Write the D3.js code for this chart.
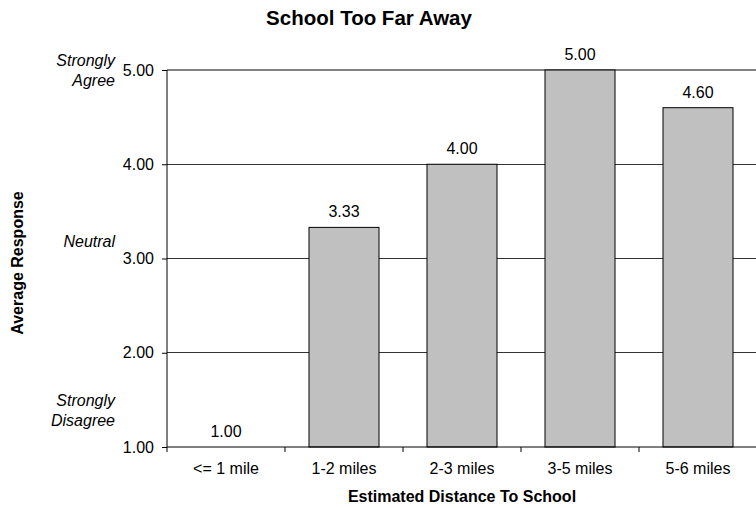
<!DOCTYPE html>
<html>
<head>
<meta charset="utf-8">
<script src="https://cdn.jsdelivr.net/npm/d3@7"></script>
<style>
  html, body { margin: 0; padding: 0; background: #fff; }
  svg { display: block; font-family: "Liberation Sans", Arial, sans-serif; }
</style>
</head>
<body>
<svg id="chart" width="756" height="508"></svg>
<script>
const categories = ["<= 1 mile", "1-2 miles", "2-3 miles", "3-5 miles", "5-6 miles"];
const values = [1.00, 3.33, 4.00, 5.00, 4.60];
const yTicks = [1, 2, 3, 4, 5];
const scaleLabels = [
  { value: 5, lines: ["Strongly", "Agree"] },
  { value: 3, lines: ["Neutral"] },
  { value: 1, lines: ["Strongly", "Disagree"] }
];
const chartTitle = "School Too Far Away";
const xTitle = "Estimated Distance To School";
const yTitle = "Average Response";

(function () {
const svg = d3.select("#chart");
const pLeft = 167, pRight = 757, pTop = 70, pBottom = 447;

const x = d3.scaleBand().domain(categories).range([pLeft, pRight])
  .paddingInner(0.4068).paddingOuter(0.2034);
const y = d3.scaleLinear().domain([1, 5]).range([pBottom, pTop]);

// gridlines
svg.append("g").selectAll("line").data(yTicks.filter(d => d > 1 && d < 5)).join("line")
  .attr("x1", pLeft).attr("x2", pRight)
  .attr("y1", d => y(d)).attr("y2", d => y(d))
  .attr("stroke", "#333").attr("stroke-width", 1).attr("shape-rendering", "crispEdges");
// top line
svg.append("line").attr("x1", pLeft).attr("x2", pRight).attr("y1", y(5)).attr("y2", y(5))
  .attr("stroke", "#808080").attr("stroke-width", 2);

// bars
svg.append("g").selectAll("rect").data(values).join("rect")
  .attr("x", (d, i) => x(categories[i]))
  .attr("width", x.bandwidth())
  .attr("y", d => y(d))
  .attr("height", d => y(1) - y(d))
  .attr("fill", "#c0c0c0")
  .attr("stroke", "#000").attr("stroke-width", 1);

// value labels
svg.append("g").selectAll("text").data(values).join("text")
  .attr("x", (d, i) => x(categories[i]) + x.bandwidth() / 2)
  .attr("y", d => y(d) - 10)
  .attr("text-anchor", "middle")
  .attr("font-size", 16).attr("fill", "#000")
  .text(d => d3.format(".2f")(d));

// y axis
const yAxis = d3.axisLeft(y).tickValues(yTicks).tickFormat(d3.format(".2f")).tickSize(5).tickPadding(8);
const gy = svg.append("g").attr("transform", `translate(${pLeft},0)`).call(yAxis);
gy.select(".domain").attr("stroke", "#000").attr("d", `M0,${pTop}V${pBottom}`);
gy.selectAll(".tick line").attr("stroke", "#000");
gy.selectAll(".tick text").attr("font-size", 16).attr("font-family", "Liberation Sans, Arial, sans-serif").attr("fill", "#000");

// x axis
const xBoundaries = d3.range(categories.length + 1).map(i => pLeft + i * x.step());
svg.append("line").attr("x1", pLeft).attr("x2", pRight).attr("y1", pBottom).attr("y2", pBottom)
  .attr("stroke", "#000").attr("stroke-width", 1);
svg.append("g").selectAll("line").data(xBoundaries).join("line")
  .attr("x1", d => d).attr("x2", d => d).attr("y1", pBottom).attr("y2", pBottom + 5)
  .attr("stroke", "#000");
svg.append("g").selectAll("text").data(categories).join("text")
  .attr("x", d => x(d) + x.bandwidth() / 2)
  .attr("y", pBottom + 27)
  .attr("text-anchor", "middle").attr("font-size", 16).attr("fill", "#000")
  .text(d => d);

// scale labels
scaleLabels.forEach(s => {
  const baseY = s.value === 5 ? 66 : (s.value === 3 ? 247 : 406);
  s.lines.forEach((ln, j) => {
    svg.append("text").attr("x", 115).attr("y", baseY + j * 20)
      .attr("text-anchor", "end").attr("font-size", 16).attr("font-style", "italic")
      .attr("fill", "#000").text(ln);
  });
});

// titles
svg.append("text").attr("x", 369).attr("y", 25).attr("text-anchor", "middle")
  .attr("font-size", 20.5).attr("font-weight", "bold").text(chartTitle);
svg.append("text").attr("x", (pLeft + pRight) / 2).attr("y", 502).attr("text-anchor", "middle")
  .attr("font-size", 16).attr("font-weight", "bold").text(xTitle);
svg.append("text").attr("transform", "translate(23,263) rotate(-90)").attr("text-anchor", "middle")
  .attr("font-size", 16).attr("font-weight", "bold").text(yTitle);
})();
</script>
</body>
</html>
